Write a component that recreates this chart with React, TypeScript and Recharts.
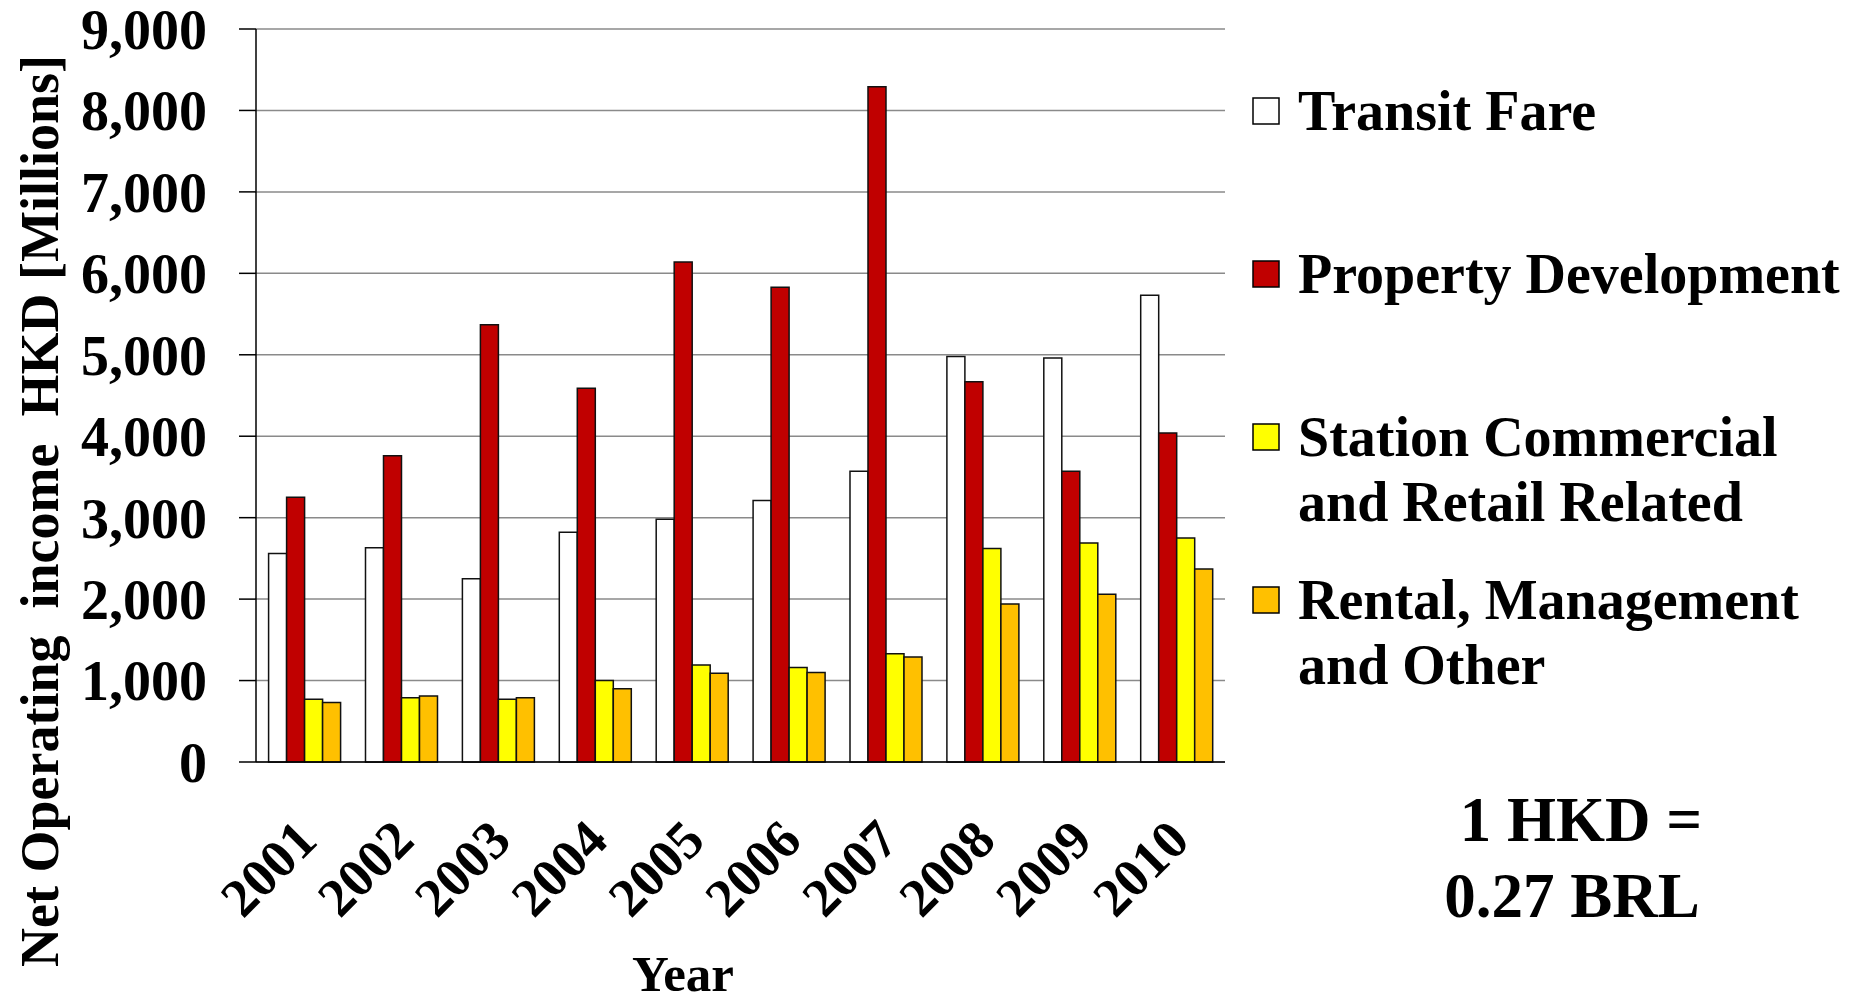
import { Bar, BarChart, CartesianGrid, Legend, XAxis, YAxis } from "recharts";

// Net operating income by business line, HKD millions, 2001-2010.
const years = ["2001", "2002", "2003", "2004", "2005", "2006", "2007", "2008", "2009", "2010"];
const transitFare = [2560, 2630, 2250, 2820, 2980, 3210, 3570, 4980, 4960, 5730];
const propertyDevelopment = [3250, 3760, 5370, 4590, 6140, 5830, 8290, 4670, 3570, 4040];
const stationCommercial = [770, 790, 770, 1000, 1190, 1160, 1330, 2620, 2690, 2750];
const rentalManagement = [730, 810, 790, 900, 1090, 1100, 1290, 1940, 2060, 2370];
const yTicks = [0, 1000, 2000, 3000, 4000, 5000, 6000, 7000, 8000, 9000];

const SERIES = [
  { key: "transit", name: "Transit Fare", lines: ["Transit Fare"], fill: "#ffffff", values: transitFare },
  { key: "property", name: "Property Development", lines: ["Property Development"], fill: "#c00000", values: propertyDevelopment },
  {
    key: "station",
    name: "Station Commercial and Retail Related",
    lines: ["Station Commercial", "and Retail Related"],
    fill: "#ffff00",
    values: stationCommercial,
  },
  {
    key: "rental",
    name: "Rental, Management and Other",
    lines: ["Rental, Management", "and Other"],
    fill: "#ffc000",
    values: rentalManagement,
  },
];

const rows = years.map((year, i) => {
  const row: Record<string, string | number> = { year };
  SERIES.forEach((s) => {
    row[s.key] = s.values[i];
  });
  return row;
});

const FONT = '"Liberation Serif", "Times New Roman", serif';
const W = 1854;
const H = 1001;

const fmt = (v: number) => v.toLocaleString("en-US");

function YearTick({ x, y, payload }: any) {
  const ax = x + 15;
  const ay = y + 81;
  return (
    <text
      x={ax}
      y={ay}
      textAnchor="end"
      transform={`rotate(-45, ${ax}, ${ay})`}
      fontFamily={FONT}
      fontWeight="bold"
      fontSize={54}
      fill="#000"
    >
      {payload.value}
    </text>
  );
}

function YTitle() {
  return (
    <text
      x={58}
      y={511}
      textAnchor="middle"
      transform="rotate(-90, 58, 511)"
      fontFamily={FONT}
      fontWeight="bold"
      fontSize={54}
      fill="#000"
      style={{ whiteSpace: "pre" }}
    >
      {"Net Operating  income  HKD [Millions]"}
    </text>
  );
}

function XTitle() {
  return (
    <text x={683} y={991} textAnchor="middle" fontFamily={FONT} fontWeight="bold" fontSize={51} fill="#000">
      Year
    </text>
  );
}

const LEGEND_LEFT = 1250;
const LEGEND_TOP = 60;

// Legend rows follow the series order, each with a bordered swatch and one or two text lines.
function LegendBlock({ payload }: any) {
  const items = (payload ?? []) as { value: string; color: string }[];
  const ordered = SERIES.filter((s) => items.some((p) => p.value === s.name));
  return (
    <svg width={W - LEGEND_LEFT} height={660} style={{ display: "block", overflow: "visible" }}>
      {ordered.map((s, i) => {
        const mid = 111 + i * 163 - LEGEND_TOP;
        const color = items.find((p) => p.value === s.name)?.color ?? s.fill;
        return (
          <g key={s.key}>
            <rect x={3} y={mid - 13} width={26} height={26} fill={color} stroke="#000" strokeWidth={1.5} />
            {s.lines.map((line, j) => (
              <text
                key={line}
                x={48}
                y={mid + 19 + j * 65}
                fontFamily={FONT}
                fontWeight="bold"
                fontSize={56}
                fill="#000"
              >
                {line}
              </text>
            ))}
          </g>
        );
      })}
    </svg>
  );
}

export default function App() {
  return (
    <div style={{ position: "absolute", left: 0, top: 0, width: W, height: H, background: "#fff" }}>
      <BarChart
        width={W}
        height={H}
        data={rows}
        margin={{ top: 29, right: 629, left: 0, bottom: 0 }}
        barCategoryGap="13%"
        barGap={0}
      >
        <CartesianGrid vertical={false} stroke="#8a8a8a" strokeWidth={1.5} />
        <XAxis
          dataKey="year"
          height={239}
          tickLine={false}
          tickSize={0}
          tickMargin={0}
          axisLine={{ stroke: "#000", strokeWidth: 1.5 }}
          tick={<YearTick />}
          interval={0}
          label={<XTitle />}
        />
        <YAxis
          width={256}
          domain={[0, 9000]}
          ticks={yTicks}
          interval={0}
          tickFormatter={fmt}
          tickSize={17}
          tickMargin={32}
          tickLine={{ stroke: "#000", strokeWidth: 1.5 }}
          axisLine={{ stroke: "#000", strokeWidth: 1.5 }}
          tick={{ fontFamily: FONT, fontWeight: "bold", fontSize: 56, fill: "#000" }}
          label={<YTitle />}
        />
        <Legend
          layout="vertical"
          align="center"
          verticalAlign="middle"
          content={<LegendBlock />}
          wrapperStyle={{ left: LEGEND_LEFT, top: LEGEND_TOP, bottom: "auto", right: "auto", width: W - LEGEND_LEFT }}
        />
        {SERIES.map((s) => (
          <Bar
            key={s.key}
            dataKey={s.key}
            name={s.name}
            fill={s.fill}
            stroke="#111"
            strokeWidth={1.5}
            isAnimationActive={false}
          />
        ))}
      </BarChart>
      <svg
        width={W}
        height={H}
        style={{ position: "absolute", left: 0, top: 0, pointerEvents: "none" }}
      >
        <g fontFamily={FONT} fontWeight="bold" fontSize={63} fill="#000" textAnchor="middle">
          <text x={1581} y={841}>1 HKD =</text>
          <text x={1572} y={917}>0.27 BRL</text>
        </g>
      </svg>
    </div>
  );
}
